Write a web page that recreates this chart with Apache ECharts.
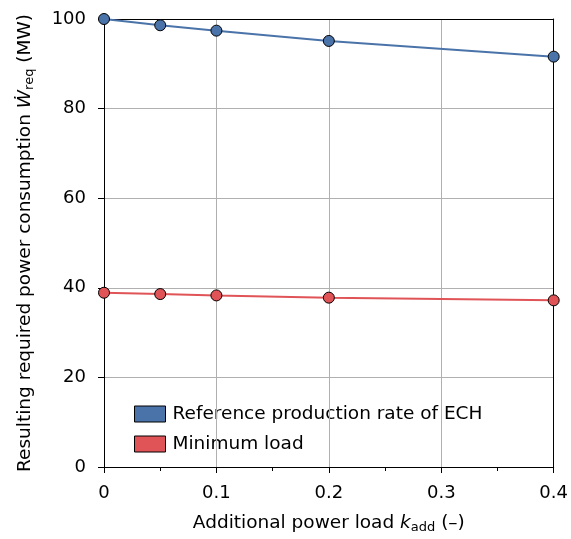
<!DOCTYPE html>
<html>
<head>
<meta charset="utf-8">
<script src="https://cdn.jsdelivr.net/npm/echarts@6/dist/echarts.min.js"></script>
<style>
  html, body { margin: 0; padding: 0; background: #fff; }
  #chart { width: 571px; height: 539px; }
</style>
</head>
<body>
<div id="chart"></div>
<script>
// values
const kAdd = [0, 0.05, 0.1, 0.2, 0.4];
const refRate = [100, 98.6, 97.4, 95.1, 91.6];
const minLoad = [38.9, 38.6, 38.3, 37.8, 37.2];
const xTicks = [0, 0.1, 0.2, 0.3, 0.4];
const yTicks = [0, 20, 40, 60, 80, 100];

const BLUE = '#4a73a9';
const RED = '#e05458';
const FONT = 'DejaVu Sans';
const FS = 18;     // tick labels
const FN = 18.5;   // axis names, legend

const pairs = (xs, ys) => xs.map((x, i) => [x, ys[i]]);

const nameRich = {
  t: { fontFamily: FONT, fontSize: FN, color: '#000' },
  i: { fontFamily: FONT, fontSize: FN, fontStyle: 'italic', color: '#000' },
  s: { fontFamily: FONT, fontSize: 13, color: '#000', padding: [8, 0, 0, 0] }
};

// plain black frame line for top/right sides
const frameAxis = {
  type: 'value',
  axisLine: { show: true, onZero: false, lineStyle: { color: '#000', width: 1 } },
  axisTick: { show: false },
  axisLabel: { show: false },
  splitLine: { show: false },
  z: 10
};

const chart = echarts.init(document.getElementById('chart'));

chart.setOption({
  animation: false,
  textStyle: { fontFamily: FONT },
  grid: { left: 104, right: 13, top: 19, bottom: 66 },
  legend: {
    left: 134, top: 404, padding: 0,
    orient: 'vertical',
    itemWidth: 31, itemHeight: 16, itemGap: 10,
    icon: 'rect',
    textStyle: { fontFamily: FONT, fontSize: FN, lineHeight: 20, color: '#000', padding: [0, 0, 0, 2] },
    itemStyle: { borderColor: '#000', borderWidth: 1 },
    data: ['Reference production rate of ECH', 'Minimum load']
  },
  xAxis: [
    {
      type: 'value',
      min: xTicks[0], max: xTicks[xTicks.length - 1], interval: 0.1,
      axisLine: { lineStyle: { color: '#000' } },
      axisTick: { show: true, length: 6, lineStyle: { color: '#000' } },
      minorTick: { show: true, splitNumber: 2, length: 4, lineStyle: { color: '#000' } },
      axisLabel: { fontFamily: FONT, fontSize: FS, color: '#000', margin: 17 },
      splitLine: { show: true, lineStyle: { color: '#b0b0b0', width: 1 } },
      name: '{t|Additional power load }{i|k}{s|add}{t| (–)}',
      nameLocation: 'middle', nameGap: 46,
      nameTextStyle: { rich: nameRich },
      z: 10
    },
    Object.assign({ position: 'top', min: 0, max: 0.4 }, frameAxis)
  ],
  yAxis: [
    {
      type: 'value',
      min: yTicks[0], max: yTicks[yTicks.length - 1], interval: 20,
      axisLine: { show: true, lineStyle: { color: '#000' } },
      axisTick: { show: true, length: 6, lineStyle: { color: '#000' } },
      axisLabel: { fontFamily: FONT, fontSize: FS, color: '#000', margin: 18 },
      splitLine: { show: true, lineStyle: { color: '#b0b0b0', width: 1 } },
      name: '{t|Resulting required power consumption }{i|W\u0307}{s|req}{t| (MW)}',
      nameLocation: 'middle', nameGap: 68, nameRotate: 90,
      nameTextStyle: { rich: nameRich },
      z: 10
    },
    Object.assign({ position: 'right', min: 0, max: 100 }, frameAxis)
  ],
  series: [
    {
      name: 'Reference production rate of ECH',
      type: 'line',
      data: pairs(kAdd, refRate),
      clip: false,
      symbol: 'circle', symbolSize: 11,
      lineStyle: { color: BLUE, width: 2 },
      itemStyle: { color: BLUE, borderColor: '#000', borderWidth: 1 },
      z: 20
    },
    {
      name: 'Minimum load',
      type: 'line',
      data: pairs(kAdd, minLoad),
      clip: false,
      symbol: 'circle', symbolSize: 11,
      lineStyle: { color: RED, width: 2 },
      itemStyle: { color: RED, borderColor: '#000', borderWidth: 1 },
      z: 20
    }
  ]
});
</script>
</body>
</html>
